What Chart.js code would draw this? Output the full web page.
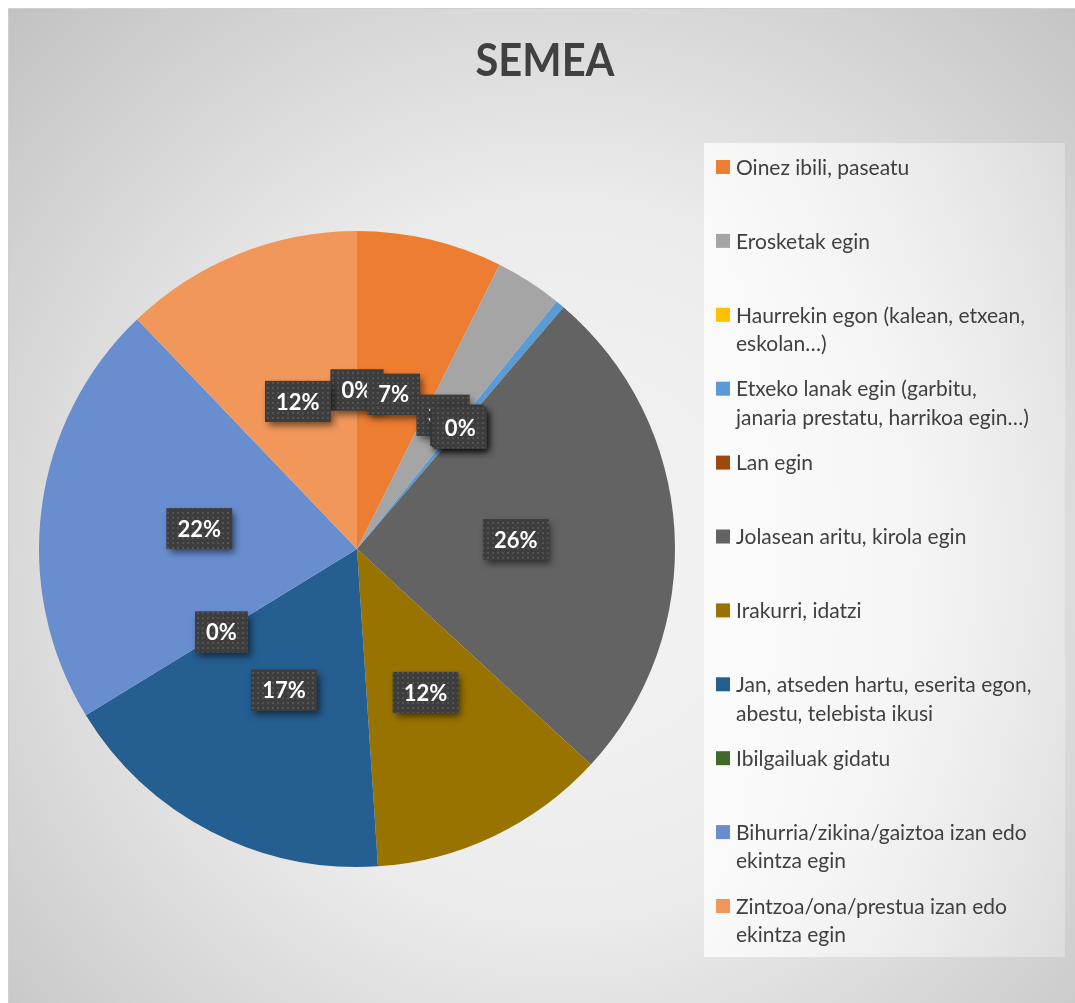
<!DOCTYPE html>
<html>
<head>
<meta charset="utf-8">
<script src="https://cdn.jsdelivr.net/npm/chart.js@4.4.1/dist/chart.umd.min.js"></script>
<style>
html,body{margin:0;padding:0;background:#fff;}
canvas{display:block;}
</style>
</head>
<body>
<canvas id="c" width="1075" height="1003"></canvas>
<script>
// ---- data ----
const chartTitle = "SEMEA";
const categories = [
  "",
  "Oinez ibili, paseatu",
  "Erosketak egin",
  "Haurrekin egon (kalean, etxean, eskolan…)",
  "Etxeko lanak egin (garbitu, janaria prestatu, harrikoa egin…)",
  "Lan egin",
  "Jolasean aritu, kirola egin",
  "Irakurri, idatzi",
  "Jan, atseden hartu, eserita egon, abestu, telebista ikusi",
  "Ibilgailuak gidatu",
  "Bihurria/zikina/gaiztoa izan edo ekintza egin",
  "Zintzoa/ona/prestua izan edo ekintza egin"
];
const values = [0, 7.4, 3.4, 0, 0.45, 0, 25.6, 12.1, 17.3, 0, 21.6, 12.15];
const sliceColors = ["#4472C4","#ED7D31","#A5A5A5","#FFC000","#5B9BD5","#9E480E","#636363","#997300","#255E91","#43682B","#698ED0","#F1975A"];

const FONT = "Lato, 'Open Sans', sans-serif";

function wrapText(ctx, text, maxW){
  const words = text.split(" ");
  const lines = []; let cur = "";
  for (const w of words){
    const t = cur ? cur + " " + w : w;
    if (ctx.measureText(t).width > maxW && cur){ lines.push(cur); cur = w; }
    else cur = t;
  }
  if (cur) lines.push(cur);
  return lines;
}

const decorPlugin = {
  id: "decor",
  beforeDraw(chart){
    const ctx = chart.ctx, W = chart.width, H = chart.height;
    ctx.save();
    ctx.fillStyle = "#ffffff";
    ctx.fillRect(0,0,W,H);
    const g = ctx.createRadialGradient(560, 560, 0, 560, 560, 780);
    g.addColorStop(0, "#f4f4f4");
    g.addColorStop(0.45, "#ececec");
    g.addColorStop(1, "#c2c2c2");
    ctx.fillStyle = g;
    ctx.fillRect(8, 8, W-8, H-8);
    ctx.strokeStyle = "#cfcfcf";
    ctx.lineWidth = 1;
    ctx.strokeRect(8.5, 8.5, W-8, H-8);
    // legend panel
    const lg = ctx.createLinearGradient(704, 0, 1065, 0);
    lg.addColorStop(0, "rgba(255,255,255,0.75)");
    lg.addColorStop(1, "rgba(255,255,255,0.28)");
    ctx.fillStyle = lg;
    ctx.fillRect(704, 143, 361, 814);
    // title
    ctx.fillStyle = "#404040";
    ctx.font = "bold 46px " + FONT;
    ctx.textAlign = "center";
    ctx.textBaseline = "alphabetic";
    ctx.fillText(chartTitle, 545, 76, 139);
    ctx.restore();
  },
  afterDraw(chart){
    const ctx = chart.ctx;
    ctx.save();
    ctx.font = "21px " + FONT;
    ctx.textBaseline = "middle";
    ctx.textAlign = "left";
    let k = 0;
    chart.data.labels.forEach((lab, i) => {
      if (!lab) return;
      const y0 = 167 + 73.9 * k;
      ctx.fillStyle = sliceColors[i];
      ctx.fillRect(716, y0 - 7, 14, 14);
      ctx.fillStyle = "#404040";
      const lines = wrapText(ctx, lab, 302);
      lines.forEach((ln, j) => ctx.fillText(ln, 736, y0 + 1 + j * 28.5));
      k++;
    });
    ctx.restore();
  }
};

function makePattern(){
  const p = document.createElement("canvas");
  p.width = 5; p.height = 5;
  const c = p.getContext("2d");
  c.fillStyle = "#3d3d3d"; c.fillRect(0,0,5,5);
  c.fillStyle = "#535353"; c.fillRect(2,2,2,2);
  return p;
}

const labelPlugin = {
  id: "sliceLabels",
  afterDatasetsDraw(chart){
    const ctx = chart.ctx;
    const meta = chart.getDatasetMeta(0);
    const data = chart.data.datasets[0].data;
    const total = data.reduce((a,b)=>a+b,0);
    const pat = ctx.createPattern(makePattern(), "repeat");
    ctx.save();
    ctx.font = "bold 22px " + FONT;
    ctx.textAlign = "center";
    ctx.textBaseline = "middle";
    meta.data.forEach((arc, i) => {
      const p = arc.getProps(["x","y","startAngle","endAngle","outerRadius"], true);
      const mid = (p.startAngle + p.endAngle) / 2;
      const r = p.outerRadius * 0.5;
      const x = p.x + Math.cos(mid) * r;
      const y = p.y + Math.sin(mid) * r;
      const txt = Math.round(data[i] / total * 100) + "%";
      const tw = ctx.measureText(txt).width;
      const bw = tw + 22, bh = 41;
      ctx.save();
      ctx.shadowColor = "rgba(0,0,0,0.55)";
      ctx.shadowBlur = 7;
      ctx.shadowOffsetX = 3;
      ctx.shadowOffsetY = 4;
      ctx.fillStyle = "#3d3d3d";
      ctx.fillRect(x - bw/2, y - bh/2, bw, bh);
      ctx.restore();
      ctx.fillStyle = pat;
      ctx.fillRect(x - bw/2, y - bh/2, bw, bh);
      ctx.fillStyle = "#ffffff";
      ctx.fillText(txt, x, y + 1);
    });
    ctx.restore();
  }
};

new Chart(document.getElementById("c"), {
  type: "pie",
  data: {
    labels: categories,
    datasets: [{
      data: values,
      backgroundColor: sliceColors,
      borderWidth: 0
    }]
  },
  options: {
    responsive: false,
    devicePixelRatio: 1,
    animation: false,
    layout: { padding: { left: 38, right: 399, top: 231, bottom: 136 } },
    plugins: {
      legend: { display: false },
      title: { display: false },
      tooltip: { enabled: false }
    }
  },
  plugins: [decorPlugin, labelPlugin]
});
</script>
</body>
</html>
